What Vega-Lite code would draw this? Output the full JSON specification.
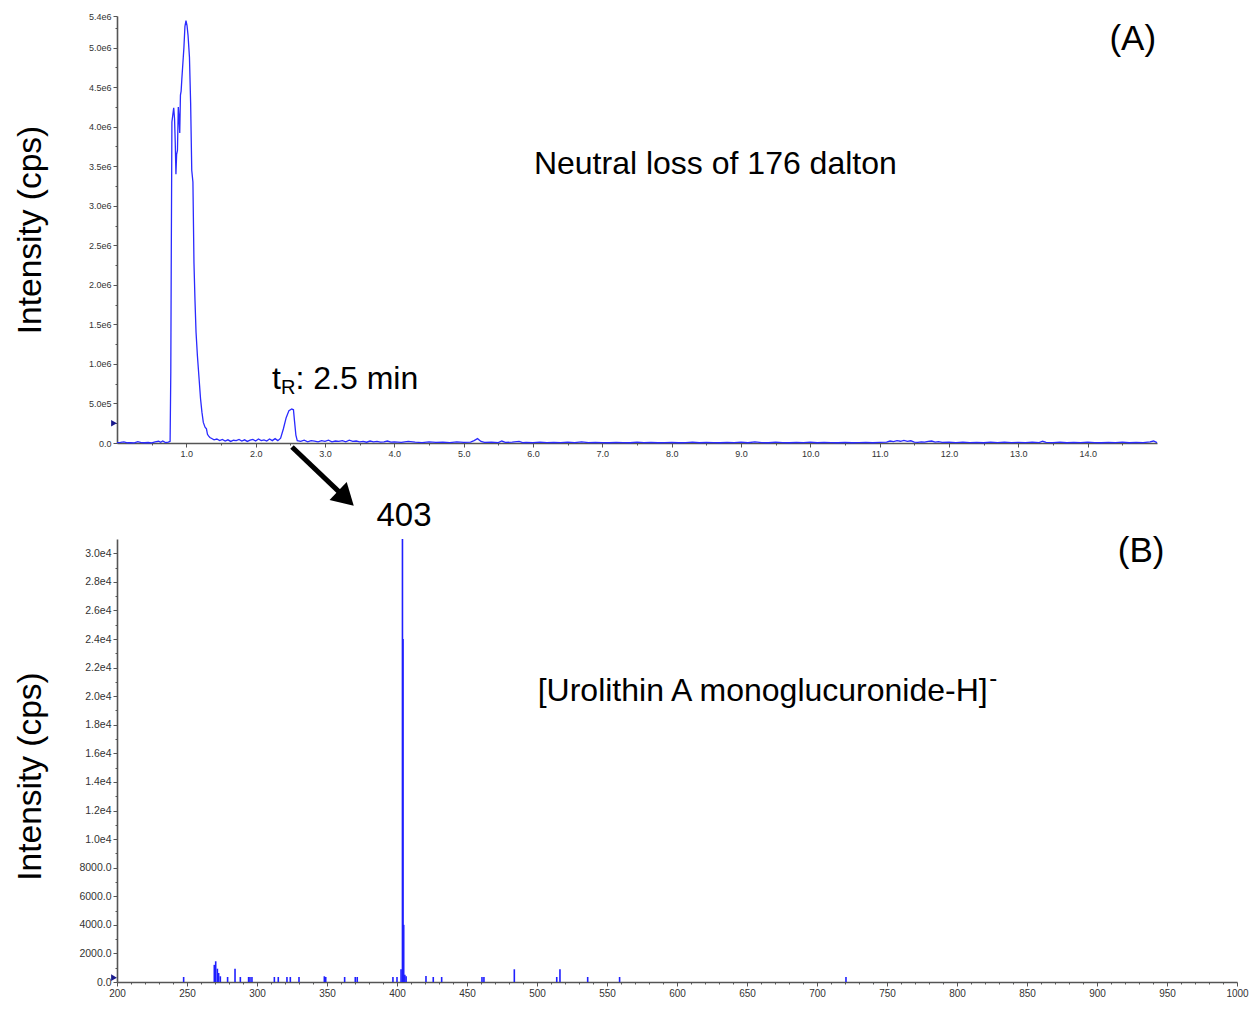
{
  "$schema": "https://vega.github.io/schema/vega-lite/v6.json",
  "padding": {"left": 13, "top": 12, "right": 5, "bottom": 5},
  "bounds": "flush",
  "spacing": 96,
  "config": {
    "view": {"stroke": null},
    "font": "Liberation Sans",
    "axis": {
      "grid": false,
      "domainColor": "#555555",
      "domainWidth": 1.6,
      "tickColor": "#555555",
      "tickWidth": 1,
      "tickSize": 4,
      "labelColor": "#333333",
      "labelFont": "Liberation Sans",
      "labelPadding": 2,
      "labelFlush": false,
      "labelOverlap": false,
      "titleFont": "Liberation Sans",
      "titleFontWeight": "normal",
      "titleColor": "#000000"
    }
  },
  "datasets": {
    "chrom": [
      {"t": 0.00, "i": 5000}, {"t": 0.05, "i": 8000}, {"t": 0.10, "i": 15000}, {"t": 0.15, "i": 3000},
      {"t": 0.20, "i": 5000}, {"t": 0.25, "i": 2000}, {"t": 0.30, "i": 18000}, {"t": 0.35, "i": 4000},
      {"t": 0.40, "i": 3000}, {"t": 0.45, "i": 6000}, {"t": 0.50, "i": 2000}, {"t": 0.55, "i": 15000},
      {"t": 0.60, "i": 22000}, {"t": 0.63, "i": 8000}, {"t": 0.66, "i": 25000}, {"t": 0.70, "i": 6000},
      {"t": 0.74, "i": 10000}, {"t": 0.766, "i": 20000}, {"t": 0.776, "i": 900000}, {"t": 0.782, "i": 2200000},
      {"t": 0.792, "i": 4060000}, {"t": 0.805, "i": 4150000}, {"t": 0.818, "i": 4240000}, {"t": 0.830, "i": 4100000},
      {"t": 0.840, "i": 3800000}, {"t": 0.850, "i": 3400000}, {"t": 0.860, "i": 3650000}, {"t": 0.872, "i": 3700000},
      {"t": 0.884, "i": 4250000}, {"t": 0.895, "i": 4100000}, {"t": 0.905, "i": 3920000}, {"t": 0.915, "i": 4400000},
      {"t": 0.925, "i": 4450000}, {"t": 0.935, "i": 4600000}, {"t": 0.950, "i": 4800000}, {"t": 0.965, "i": 5000000},
      {"t": 0.980, "i": 5270000}, {"t": 0.995, "i": 5340000}, {"t": 1.010, "i": 5280000}, {"t": 1.025, "i": 5150000},
      {"t": 1.045, "i": 4880000}, {"t": 1.062, "i": 4300000}, {"t": 1.078, "i": 3450000}, {"t": 1.095, "i": 3300000},
      {"t": 1.110, "i": 2280000}, {"t": 1.125, "i": 1800000}, {"t": 1.140, "i": 1400000}, {"t": 1.160, "i": 1100000},
      {"t": 1.185, "i": 800000}, {"t": 1.205, "i": 560000}, {"t": 1.225, "i": 390000}, {"t": 1.245, "i": 260000},
      {"t": 1.270, "i": 200000}, {"t": 1.290, "i": 180000}, {"t": 1.305, "i": 110000}, {"t": 1.320, "i": 90000},
      {"t": 1.340, "i": 70000}, {"t": 1.36, "i": 60000}, {"t": 1.40, "i": 40000}, {"t": 1.44, "i": 50000},
      {"t": 1.48, "i": 30000}, {"t": 1.52, "i": 45000}, {"t": 1.56, "i": 25000}, {"t": 1.60, "i": 40000},
      {"t": 1.64, "i": 20000}, {"t": 1.68, "i": 35000}, {"t": 1.72, "i": 30000}, {"t": 1.76, "i": 45000},
      {"t": 1.80, "i": 25000}, {"t": 1.84, "i": 40000}, {"t": 1.88, "i": 20000}, {"t": 1.92, "i": 35000},
      {"t": 1.96, "i": 45000}, {"t": 2.00, "i": 25000}, {"t": 2.04, "i": 50000}, {"t": 2.08, "i": 30000},
      {"t": 2.12, "i": 40000}, {"t": 2.16, "i": 25000}, {"t": 2.20, "i": 50000}, {"t": 2.24, "i": 30000},
      {"t": 2.28, "i": 55000}, {"t": 2.32, "i": 30000}, {"t": 2.36, "i": 60000}, {"t": 2.40, "i": 180000},
      {"t": 2.44, "i": 320000}, {"t": 2.48, "i": 410000}, {"t": 2.52, "i": 430000}, {"t": 2.545, "i": 420000},
      {"t": 2.56, "i": 280000}, {"t": 2.58, "i": 100000}, {"t": 2.60, "i": 30000}, {"t": 2.65, "i": 20000},
      {"t": 2.70, "i": 35000}, {"t": 2.75, "i": 15000}, {"t": 2.80, "i": 30000}, {"t": 2.85, "i": 25000},
      {"t": 2.90, "i": 15000}, {"t": 2.95, "i": 30000}, {"t": 3.00, "i": 20000}, {"t": 3.05, "i": 35000},
      {"t": 3.10, "i": 15000}, {"t": 3.15, "i": 25000}, {"t": 3.20, "i": 20000}, {"t": 3.25, "i": 30000},
      {"t": 3.30, "i": 15000}, {"t": 3.35, "i": 35000}, {"t": 3.40, "i": 20000}, {"t": 3.45, "i": 25000},
      {"t": 3.50, "i": 15000}, {"t": 3.55, "i": 20000}, {"t": 3.60, "i": 10000}, {"t": 3.65, "i": 25000},
      {"t": 3.70, "i": 15000}, {"t": 3.75, "i": 20000}, {"t": 3.80, "i": 10000}, {"t": 3.85, "i": 15000},
      {"t": 3.90, "i": 25000}, {"t": 3.95, "i": 10000}, {"t": 4.0, "i": 15000}, {"t": 4.1, "i": 8000},
      {"t": 4.2, "i": 20000}, {"t": 4.3, "i": 10000}, {"t": 4.4, "i": 5000}, {"t": 4.5, "i": 15000},
      {"t": 4.6, "i": 8000}, {"t": 4.7, "i": 12000}, {"t": 4.8, "i": 5000}, {"t": 4.9, "i": 15000},
      {"t": 5.0, "i": 8000}, {"t": 5.1, "i": 10000}, {"t": 5.15, "i": 30000}, {"t": 5.2, "i": 55000},
      {"t": 5.25, "i": 20000}, {"t": 5.3, "i": 8000}, {"t": 5.4, "i": 10000}, {"t": 5.5, "i": 5000},
      {"t": 5.55, "i": 25000}, {"t": 5.6, "i": 8000}, {"t": 5.7, "i": 10000}, {"t": 5.8, "i": 20000},
      {"t": 5.85, "i": 5000}, {"t": 5.9, "i": 8000}, {"t": 6.0, "i": 5000}, {"t": 6.1, "i": 10000},
      {"t": 6.2, "i": 5000}, {"t": 6.3, "i": 8000}, {"t": 6.4, "i": 5000}, {"t": 6.5, "i": 12000},
      {"t": 6.6, "i": 5000}, {"t": 6.7, "i": 15000}, {"t": 6.8, "i": 5000}, {"t": 6.9, "i": 8000},
      {"t": 7.0, "i": 5000}, {"t": 7.1, "i": 3000}, {"t": 7.2, "i": 8000}, {"t": 7.3, "i": 5000},
      {"t": 7.4, "i": 3000}, {"t": 7.5, "i": 10000}, {"t": 7.6, "i": 5000}, {"t": 7.7, "i": 8000},
      {"t": 7.8, "i": 3000}, {"t": 7.9, "i": 5000}, {"t": 8.0, "i": 8000}, {"t": 8.1, "i": 3000},
      {"t": 8.2, "i": 5000}, {"t": 8.3, "i": 10000}, {"t": 8.4, "i": 3000}, {"t": 8.5, "i": 8000},
      {"t": 8.6, "i": 5000}, {"t": 8.7, "i": 3000}, {"t": 8.8, "i": 8000}, {"t": 8.9, "i": 5000},
      {"t": 9.0, "i": 10000}, {"t": 9.1, "i": 3000}, {"t": 9.2, "i": 15000}, {"t": 9.3, "i": 5000},
      {"t": 9.4, "i": 3000}, {"t": 9.5, "i": 10000}, {"t": 9.6, "i": 5000}, {"t": 9.7, "i": 3000},
      {"t": 9.8, "i": 8000}, {"t": 9.9, "i": 5000}, {"t": 10.0, "i": 10000}, {"t": 10.1, "i": 3000},
      {"t": 10.2, "i": 8000}, {"t": 10.3, "i": 5000}, {"t": 10.4, "i": 3000}, {"t": 10.5, "i": 8000},
      {"t": 10.6, "i": 3000}, {"t": 10.7, "i": 5000}, {"t": 10.8, "i": 8000}, {"t": 10.9, "i": 3000},
      {"t": 11.0, "i": 8000}, {"t": 11.1, "i": 12000}, {"t": 11.15, "i": 25000}, {"t": 11.2, "i": 18000},
      {"t": 11.25, "i": 30000}, {"t": 11.3, "i": 22000}, {"t": 11.35, "i": 32000}, {"t": 11.4, "i": 20000},
      {"t": 11.45, "i": 28000}, {"t": 11.5, "i": 12000}, {"t": 11.55, "i": 8000}, {"t": 11.6, "i": 15000},
      {"t": 11.65, "i": 10000}, {"t": 11.7, "i": 20000}, {"t": 11.75, "i": 25000}, {"t": 11.8, "i": 12000},
      {"t": 11.85, "i": 18000}, {"t": 11.9, "i": 8000}, {"t": 12.0, "i": 10000}, {"t": 12.1, "i": 5000},
      {"t": 12.2, "i": 12000}, {"t": 12.3, "i": 5000}, {"t": 12.4, "i": 8000}, {"t": 12.5, "i": 3000},
      {"t": 12.6, "i": 10000}, {"t": 12.7, "i": 5000}, {"t": 12.8, "i": 12000}, {"t": 12.9, "i": 5000},
      {"t": 13.0, "i": 8000}, {"t": 13.1, "i": 5000}, {"t": 13.2, "i": 10000}, {"t": 13.3, "i": 5000},
      {"t": 13.35, "i": 22000}, {"t": 13.4, "i": 8000}, {"t": 13.5, "i": 5000}, {"t": 13.6, "i": 10000},
      {"t": 13.7, "i": 3000}, {"t": 13.8, "i": 8000}, {"t": 13.9, "i": 5000}, {"t": 14.0, "i": 12000},
      {"t": 14.1, "i": 5000}, {"t": 14.2, "i": 3000}, {"t": 14.3, "i": 8000}, {"t": 14.4, "i": 5000},
      {"t": 14.5, "i": 12000}, {"t": 14.6, "i": 3000}, {"t": 14.7, "i": 8000}, {"t": 14.8, "i": 5000},
      {"t": 14.9, "i": 15000}, {"t": 14.95, "i": 25000}, {"t": 15.0, "i": 5000}
    ],
    "spectrum": [
      {"mz": 247.6, "i": 350}, {"mz": 269.5, "i": 1200}, {"mz": 270.5, "i": 1450}, {"mz": 271.7, "i": 930},
      {"mz": 272.6, "i": 630}, {"mz": 273.8, "i": 400}, {"mz": 279.0, "i": 350}, {"mz": 284.3, "i": 930},
      {"mz": 288.1, "i": 350}, {"mz": 294.0, "i": 350}, {"mz": 295.0, "i": 350}, {"mz": 296.4, "i": 350},
      {"mz": 312.4, "i": 350}, {"mz": 315.2, "i": 350}, {"mz": 321.4, "i": 350}, {"mz": 323.8, "i": 350},
      {"mz": 330.0, "i": 350}, {"mz": 348.1, "i": 400}, {"mz": 349.1, "i": 350}, {"mz": 362.6, "i": 350},
      {"mz": 370.2, "i": 350}, {"mz": 371.6, "i": 350}, {"mz": 397.1, "i": 350}, {"mz": 400.0, "i": 350},
      {"mz": 402.9, "i": 900}, {"mz": 403.9, "i": 31000}, {"mz": 404.3, "i": 24000}, {"mz": 404.8, "i": 4000},
      {"mz": 405.6, "i": 500}, {"mz": 406.5, "i": 400}, {"mz": 420.7, "i": 420}, {"mz": 425.9, "i": 350},
      {"mz": 431.9, "i": 350}, {"mz": 460.7, "i": 350}, {"mz": 462.1, "i": 350}, {"mz": 483.8, "i": 890},
      {"mz": 514.1, "i": 350}, {"mz": 516.4, "i": 890}, {"mz": 536.2, "i": 350}, {"mz": 559.0, "i": 350},
      {"mz": 720.7, "i": 350}
    ]
  },
  "vconcat": [
    {
      "width": 1040,
      "height": 427,
      "resolve": {"axis": {"x": "independent", "y": "independent"}},
      "layer": [
        {
          "data": {"name": "chrom"},
          "mark": {"type": "line", "color": "#2a2aff", "strokeWidth": 1.3},
          "encoding": {
            "x": {"field": "t", "type": "quantitative", "scale": {"domain": [0, 15], "nice": false, "zero": false},
              "axis": {"orient": "bottom", "values": [1,2,3,4,5,6,7,8,9,10,11,12,13,14], "format": ".1f", "labelFontSize": 9, "title": null}},
            "y": {"field": "i", "type": "quantitative", "scale": {"domain": [0, 5400000], "nice": false},
              "axis": {"orient": "left", "values": [0,500000,1000000,1500000,2000000,2500000,3000000,3500000,4000000,4500000,5000000,5400000],
                "labelExpr": "datum.value == 0 ? '0.0' : replace(format(datum.value, '.1e'), 'e+', 'e')",
                "labelFontSize": 9, "title": "Intensity (cps)", "titleFontSize": 33.5, "titleX": -70}}
          }
        },
        {
          "data": {"values": [{"t": 0, "i": 250000}]},
          "mark": {"type": "point", "shape": "triangle-right", "filled": true, "color": "#1a1a8c", "size": 45, "xOffset": -3, "opacity": 1},
          "encoding": {
            "x": {"field": "t", "type": "quantitative", "scale": {"domain": [0, 15], "nice": false, "zero": false},
              "axis": {"orient": "bottom", "values": [0.5,1.5,2.5,3.5,4.5,5.5,6.5,7.5,8.5,9.5,10.5,11.5,12.5,13.5,14.5], "labels": false, "domain": false, "tickSize": 2, "title": null}},
            "y": {"field": "i", "type": "quantitative", "scale": {"domain": [0, 5400000], "nice": false},
              "axis": {"orient": "left", "values": [250000,750000,1250000,1750000,2250000,2750000,3250000,3750000,4250000,4750000,5250000], "labels": false, "domain": false, "tickSize": 2, "title": null}}
          }
        },
        {
          "data": {"values": [{"t": 8.63, "i": 3530000, "label": "Neutral loss of 176 dalton"}]},
          "mark": {"type": "text", "fontSize": 32, "font": "Liberation Sans", "align": "center", "baseline": "middle", "color": "#000000"},
          "encoding": {
            "x": {"field": "t", "type": "quantitative", "axis": null},
            "y": {"field": "i", "type": "quantitative", "axis": null},
            "text": {"field": "label"}
          }
        },
        {
          "data": {"values": [{"t": 14.65, "i": 5110000, "label": "(A)"}]},
          "mark": {"type": "text", "fontSize": 35, "font": "Liberation Sans", "align": "center", "baseline": "middle", "color": "#000000"},
          "encoding": {
            "x": {"field": "t", "type": "quantitative", "axis": null},
            "y": {"field": "i", "type": "quantitative", "axis": null},
            "text": {"field": "label"}
          }
        },
        {
          "data": {"values": [{"t": 2.236, "i": 810000, "label": "t"}]},
          "mark": {"type": "text", "fontSize": 32, "font": "Liberation Sans", "align": "left", "baseline": "middle", "color": "#000000"},
          "encoding": {
            "x": {"field": "t", "type": "quantitative", "axis": null},
            "y": {"field": "i", "type": "quantitative", "axis": null},
            "text": {"field": "label"}
          }
        },
        {
          "data": {"values": [{"t": 2.365, "i": 700000, "label": "R"}]},
          "mark": {"type": "text", "fontSize": 20, "font": "Liberation Sans", "align": "left", "baseline": "middle", "color": "#000000"},
          "encoding": {
            "x": {"field": "t", "type": "quantitative", "axis": null},
            "y": {"field": "i", "type": "quantitative", "axis": null},
            "text": {"field": "label"}
          }
        },
        {
          "data": {"values": [{"t": 2.575, "i": 810000, "label": ": 2.5 min"}]},
          "mark": {"type": "text", "fontSize": 32, "font": "Liberation Sans", "align": "left", "baseline": "middle", "color": "#000000"},
          "encoding": {
            "x": {"field": "t", "type": "quantitative", "axis": null},
            "y": {"field": "i", "type": "quantitative", "axis": null},
            "text": {"field": "label"}
          }
        },
        {
          "data": {"values": [{"t": 2.524, "i": -51000, "t2": 3.302, "i2": -700000}]},
          "mark": {"type": "rule", "color": "#000000", "strokeWidth": 5},
          "encoding": {
            "x": {"field": "t", "type": "quantitative", "axis": null},
            "y": {"field": "i", "type": "quantitative", "axis": null},
            "x2": {"field": "t2"},
            "y2": {"field": "i2"}
          }
        },
        {
          "data": {"values": [{"t": 3.302, "i": -700000}]},
          "mark": {"type": "point", "shape": "triangle-up", "filled": true, "color": "#000000", "size": 620, "angle": 133.5, "opacity": 1},
          "encoding": {
            "x": {"field": "t", "type": "quantitative", "axis": null},
            "y": {"field": "i", "type": "quantitative", "axis": null}
          }
        }
      ]
    },
    {
      "width": 1120,
      "height": 443,
      "resolve": {"axis": {"x": "independent", "y": "independent"}},
      "layer": [
        {
          "data": {"name": "spectrum"},
          "mark": {"type": "rule", "color": "#1f1fff", "strokeWidth": 1.6},
          "encoding": {
            "x": {"field": "mz", "type": "quantitative", "scale": {"domain": [200, 1000], "nice": false, "zero": false},
              "axis": {"orient": "bottom", "values": [200,250,300,350,400,450,500,550,600,650,700,750,800,850,900,950,1000], "format": "d", "labelFontSize": 10, "title": null}},
            "y": {"field": "i", "type": "quantitative", "scale": {"domain": [0, 31000], "nice": false},
              "axis": {"orient": "left", "values": [0,2000,4000,6000,8000,10000,12000,14000,16000,18000,20000,22000,24000,26000,28000,30000],
                "labelExpr": "datum.value == 0 ? '0.0' : datum.value < 10000 ? format(datum.value, '.1f') : replace(format(datum.value, '.1e'), 'e+', 'e')",
                "labelFontSize": 10.5, "title": "Intensity (cps)", "titleFontSize": 33.5, "titleX": -70, "titleY": 237}},
            "y2": {"datum": 0}
          }
        },
        {
          "data": {"values": [{"mz": 200, "i": 300}]},
          "mark": {"type": "point", "shape": "triangle-right", "filled": true, "color": "#1a1a8c", "size": 45, "xOffset": -3, "opacity": 1},
          "encoding": {
            "x": {"field": "mz", "type": "quantitative", "scale": {"domain": [200, 1000], "nice": false, "zero": false},
              "axis": {"orient": "bottom", "values": [210,220,230,240,260,270,280,290,310,320,330,340,360,370,380,390,410,420,430,440,460,470,480,490,510,520,530,540,560,570,580,590,610,620,630,640,660,670,680,690,710,720,730,740,760,770,780,790,810,820,830,840,860,870,880,890,910,920,930,940,960,970,980,990], "labels": false, "domain": false, "tickSize": 2, "title": null}},
            "y": {"field": "i", "type": "quantitative", "scale": {"domain": [0, 31000], "nice": false},
              "axis": {"orient": "left", "values": [1000,3000,5000,7000,9000,11000,13000,15000,17000,19000,21000,23000,25000,27000,29000], "labels": false, "domain": false, "tickSize": 2, "title": null}}
          }
        },
        {
          "data": {"values": [{"mz": 405, "i": 32590, "label": "403"}]},
          "mark": {"type": "text", "fontSize": 33, "font": "Liberation Sans", "align": "center", "baseline": "middle", "color": "#000000"},
          "encoding": {
            "x": {"field": "mz", "type": "quantitative", "axis": null},
            "y": {"field": "i", "type": "quantitative", "axis": null},
            "text": {"field": "label"}
          }
        },
        {
          "data": {"values": [{"mz": 931.5, "i": 30140, "label": "(B)"}]},
          "mark": {"type": "text", "fontSize": 35, "font": "Liberation Sans", "align": "center", "baseline": "middle", "color": "#000000"},
          "encoding": {
            "x": {"field": "mz", "type": "quantitative", "axis": null},
            "y": {"field": "i", "type": "quantitative", "axis": null},
            "text": {"field": "label"}
          }
        },
        {
          "data": {"values": [{"mz": 500.5, "i": 20350, "label": "[Urolithin A monoglucuronide-H]"}]},
          "mark": {"type": "text", "fontSize": 32, "font": "Liberation Sans", "align": "left", "baseline": "middle", "color": "#000000"},
          "encoding": {
            "x": {"field": "mz", "type": "quantitative", "axis": null},
            "y": {"field": "i", "type": "quantitative", "axis": null},
            "text": {"field": "label"}
          }
        },
        {
          "data": {"values": [{"mz": 823.0, "i": 21200, "label": "-"}]},
          "mark": {"type": "text", "fontSize": 24, "font": "Liberation Sans", "align": "left", "baseline": "middle", "color": "#000000"},
          "encoding": {
            "x": {"field": "mz", "type": "quantitative", "axis": null},
            "y": {"field": "i", "type": "quantitative", "axis": null},
            "text": {"field": "label"}
          }
        }
      ]
    }
  ]
}
